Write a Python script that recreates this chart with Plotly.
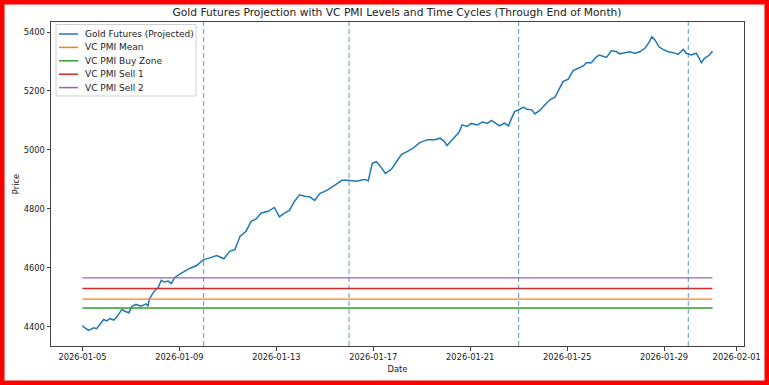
import plotly.graph_objects as go

title = "Gold Futures Projection with VC PMI Levels and Time Cycles (Through End of Month)"

dates = [
    "2026-01-05 00:00", "2026-01-05 01:00", "2026-01-05 06:00", "2026-01-05 11:00", "2026-01-05 14:00",
    "2026-01-05 21:00", "2026-01-06 00:00", "2026-01-06 03:00", "2026-01-06 07:00", "2026-01-06 10:00",
    "2026-01-06 15:00", "2026-01-06 18:00", "2026-01-06 22:00", "2026-01-07 01:00", "2026-01-07 05:00",
    "2026-01-07 10:00", "2026-01-07 15:00", "2026-01-07 17:00", "2026-01-07 18:00", "2026-01-07 23:00",
    "2026-01-08 03:00", "2026-01-08 06:00", "2026-01-08 09:00", "2026-01-08 13:00", "2026-01-08 16:00",
    "2026-01-08 19:00", "2026-01-09 00:00", "2026-01-09 05:00", "2026-01-09 10:00", "2026-01-09 17:00",
    "2026-01-10 00:00", "2026-01-10 06:00", "2026-01-10 13:00", "2026-01-10 20:00", "2026-01-11 02:00",
    "2026-01-11 07:00", "2026-01-11 12:00", "2026-01-11 18:00", "2026-01-11 23:00", "2026-01-12 04:00",
    "2026-01-12 09:00", "2026-01-12 16:00", "2026-01-12 22:00", "2026-01-13 03:00", "2026-01-13 08:00",
    "2026-01-13 13:00", "2026-01-13 18:00", "2026-01-13 23:00", "2026-01-14 04:00", "2026-01-14 09:00",
    "2026-01-14 14:00", "2026-01-14 19:00", "2026-01-15 02:00", "2026-01-15 07:00", "2026-01-15 12:00",
    "2026-01-15 17:00", "2026-01-15 23:00", "2026-01-16 07:00", "2026-01-16 14:00", "2026-01-16 16:00",
    "2026-01-16 19:00", "2026-01-16 23:00", "2026-01-17 03:00", "2026-01-17 07:00", "2026-01-17 12:00",
    "2026-01-17 18:00", "2026-01-17 23:00", "2026-01-18 04:00", "2026-01-18 10:00", "2026-01-18 15:00",
    "2026-01-18 22:00", "2026-01-19 06:00", "2026-01-19 13:00", "2026-01-19 18:00", "2026-01-19 22:00",
    "2026-01-20 01:00", "2026-01-20 05:00", "2026-01-20 09:00", "2026-01-20 13:00", "2026-01-20 16:00",
    "2026-01-20 21:00", "2026-01-21 01:00", "2026-01-21 07:00", "2026-01-21 12:00", "2026-01-21 17:00",
    "2026-01-21 21:00", "2026-01-22 02:00", "2026-01-22 05:00", "2026-01-22 10:00", "2026-01-22 14:00",
    "2026-01-22 17:00", "2026-01-22 20:00", "2026-01-23 00:00", "2026-01-23 05:00", "2026-01-23 08:00",
    "2026-01-23 13:00", "2026-01-23 16:00", "2026-01-23 21:00", "2026-01-24 02:00", "2026-01-24 07:00",
    "2026-01-24 12:00", "2026-01-24 15:00", "2026-01-24 20:00", "2026-01-25 01:00", "2026-01-25 06:00",
    "2026-01-25 11:00", "2026-01-25 16:00", "2026-01-25 19:00", "2026-01-26 00:00", "2026-01-26 05:00",
    "2026-01-26 08:00", "2026-01-26 15:00", "2026-01-26 20:00", "2026-01-27 01:00", "2026-01-27 04:00",
    "2026-01-27 09:00", "2026-01-27 14:00", "2026-01-27 19:00", "2026-01-28 00:00", "2026-01-28 05:00",
    "2026-01-28 09:00", "2026-01-28 12:00", "2026-01-28 15:00", "2026-01-28 19:00", "2026-01-28 23:00",
    "2026-01-29 04:00", "2026-01-29 09:00", "2026-01-29 14:00", "2026-01-29 19:00", "2026-01-29 22:00",
    "2026-01-30 03:00", "2026-01-30 08:00", "2026-01-30 13:00", "2026-01-30 16:00", "2026-01-30 21:00",
    "2026-01-31 00:00",
]

prices = [
    4405, 4400, 4388, 4397, 4394,
    4425, 4420, 4428, 4423, 4434,
    4459, 4453, 4448, 4470, 4476,
    4470, 4478, 4470, 4493, 4521,
    4533, 4558, 4552, 4555, 4547,
    4566, 4578, 4589, 4598, 4608,
    4628, 4634, 4642, 4631, 4657,
    4662, 4707, 4724, 4758, 4766,
    4786, 4792, 4805, 4773, 4786,
    4795, 4826, 4848, 4843, 4841,
    4829, 4852, 4863, 4874, 4886,
    4897, 4897, 4894, 4899, 4900,
    4895, 4955, 4960, 4945, 4920,
    4935, 4960, 4985, 4995, 5005,
    5025, 5035, 5035, 5040, 5030,
    5015, 5030, 5045, 5060, 5085,
    5080, 5090, 5085, 5095, 5090,
    5100, 5090, 5082, 5091, 5082,
    5108, 5130, 5136, 5145, 5138,
    5136, 5122, 5134, 5153, 5170,
    5179, 5198, 5232, 5240, 5269,
    5277, 5285, 5296, 5296, 5316,
    5322, 5314, 5337, 5333, 5326,
    5330, 5333, 5328, 5333, 5345,
    5364, 5384, 5373, 5350, 5341,
    5333, 5330, 5324, 5341, 5328,
    5322, 5328, 5296, 5311, 5322,
    5335,
]

price_name = "Gold Futures (Projected)"
level_names = ["VC PMI Mean", "VC PMI Buy Zone", "VC PMI Sell 1", "VC PMI Sell 2"]
level_values = [4494, 4464, 4530, 4566]
level_span = ["2026-01-05 00:00", "2026-01-31 00:00"]

cycle_dates = ["2026-01-10", "2026-01-16", "2026-01-23", "2026-01-30"]

xtick_vals = ["2026-01-05", "2026-01-09", "2026-01-13", "2026-01-17",
              "2026-01-21", "2026-01-25", "2026-01-29", "2026-02-01"]
ytick_vals = [4400, 4600, 4800, 5000, 5200, 5400]

x_range = ["2026-01-03 16:48", "2026-02-01 07:12"]
y_range = [4335, 5434]

price_color = "#1f77b4"
level_colors = ["#ff7f0e", "#2ca02c", "#d62728", "#9467bd"]
FONT = "DejaVu Sans"
W, H = 769, 385
L, R, T, B = 51, 25, 22, 39
pw, ph = W - L - R, H - T - B


def px(xp):
    return (xp - L) / pw


def py(yp):
    return (H - B - yp) / ph


fig = go.Figure()
fig.add_trace(go.Scatter(x=dates, y=prices, mode="lines", name=price_name,
                         line=dict(color=price_color, width=1.5)))
for name, val, col in zip(level_names, level_values, level_colors):
    fig.add_trace(go.Scatter(x=level_span, y=[val, val], mode="lines", name=name,
                             line=dict(color=col, width=1.4)))

for d in cycle_dates:
    fig.add_shape(type="line", xref="x", yref="paper", x0=d, x1=d, y0=0, y1=1,
                  line=dict(color="rgba(31,119,180,0.75)", width=1, dash="5px,3px"))

# matplotlib-style compact legend
fig.add_shape(type="rect", xref="paper", yref="paper",
              x0=px(56), x1=px(196), y0=py(96), y1=py(24.5),
              line=dict(color="#d0d0d0", width=1), fillcolor="rgba(255,255,255,0.85)",
              layer="above")
legend_names = [price_name] + level_names
legend_colors = [price_color] + level_colors
for i, (nm, col) in enumerate(zip(legend_names, legend_colors)):
    yy = 34 + 13.4 * i
    fig.add_shape(type="line", xref="paper", yref="paper",
                  x0=px(59), x1=px(78), y0=py(yy), y1=py(yy),
                  line=dict(color=col, width=1.5), layer="above")
    fig.add_annotation(xref="paper", yref="paper", x=px(83), y=py(yy), text=nm,
                       showarrow=False, xanchor="left", yanchor="middle",
                       font=dict(family=FONT, size=9, color="#222"))

# red frame around the picture
fig.add_shape(type="rect", xref="paper", yref="paper",
              x0=-L / pw, x1=1 + R / pw, y0=-B / ph, y1=1 + T / ph,
              line=dict(color="#ff0000", width=9), fillcolor="rgba(0,0,0,0)", layer="above")

axis_common = dict(showline=True, linecolor="#404040", linewidth=1, mirror=True,
                   ticks="outside", ticklen=3.5, tickcolor="#404040", showgrid=False,
                   zeroline=False, tickfont=dict(family=FONT, size=8.3, color="#222"))

fig.update_layout(
    width=W, height=H,
    margin=dict(l=L, r=R, t=T, b=B, autoexpand=False),
    paper_bgcolor="white", plot_bgcolor="white",
    font=dict(family=FONT, color="#222"),
    title=dict(text=title, x=397 / W, xanchor="center", y=1 - 12.5 / H,
               yanchor="middle", font=dict(family=FONT, size=10.7, color="#222")),
    showlegend=False,
    xaxis=dict(range=x_range, tickvals=xtick_vals, ticktext=xtick_vals,
               title=dict(text="Date", standoff=4, font=dict(family=FONT, size=8.3)),
               **axis_common),
    yaxis=dict(range=y_range, tickvals=ytick_vals,
               title=dict(text="Price", standoff=2, font=dict(family=FONT, size=8.3)),
               **axis_common),
)

fig.write_html("out.html", config={"displayModeBar": False},
               post_script="document.body.style.margin='0px';")
